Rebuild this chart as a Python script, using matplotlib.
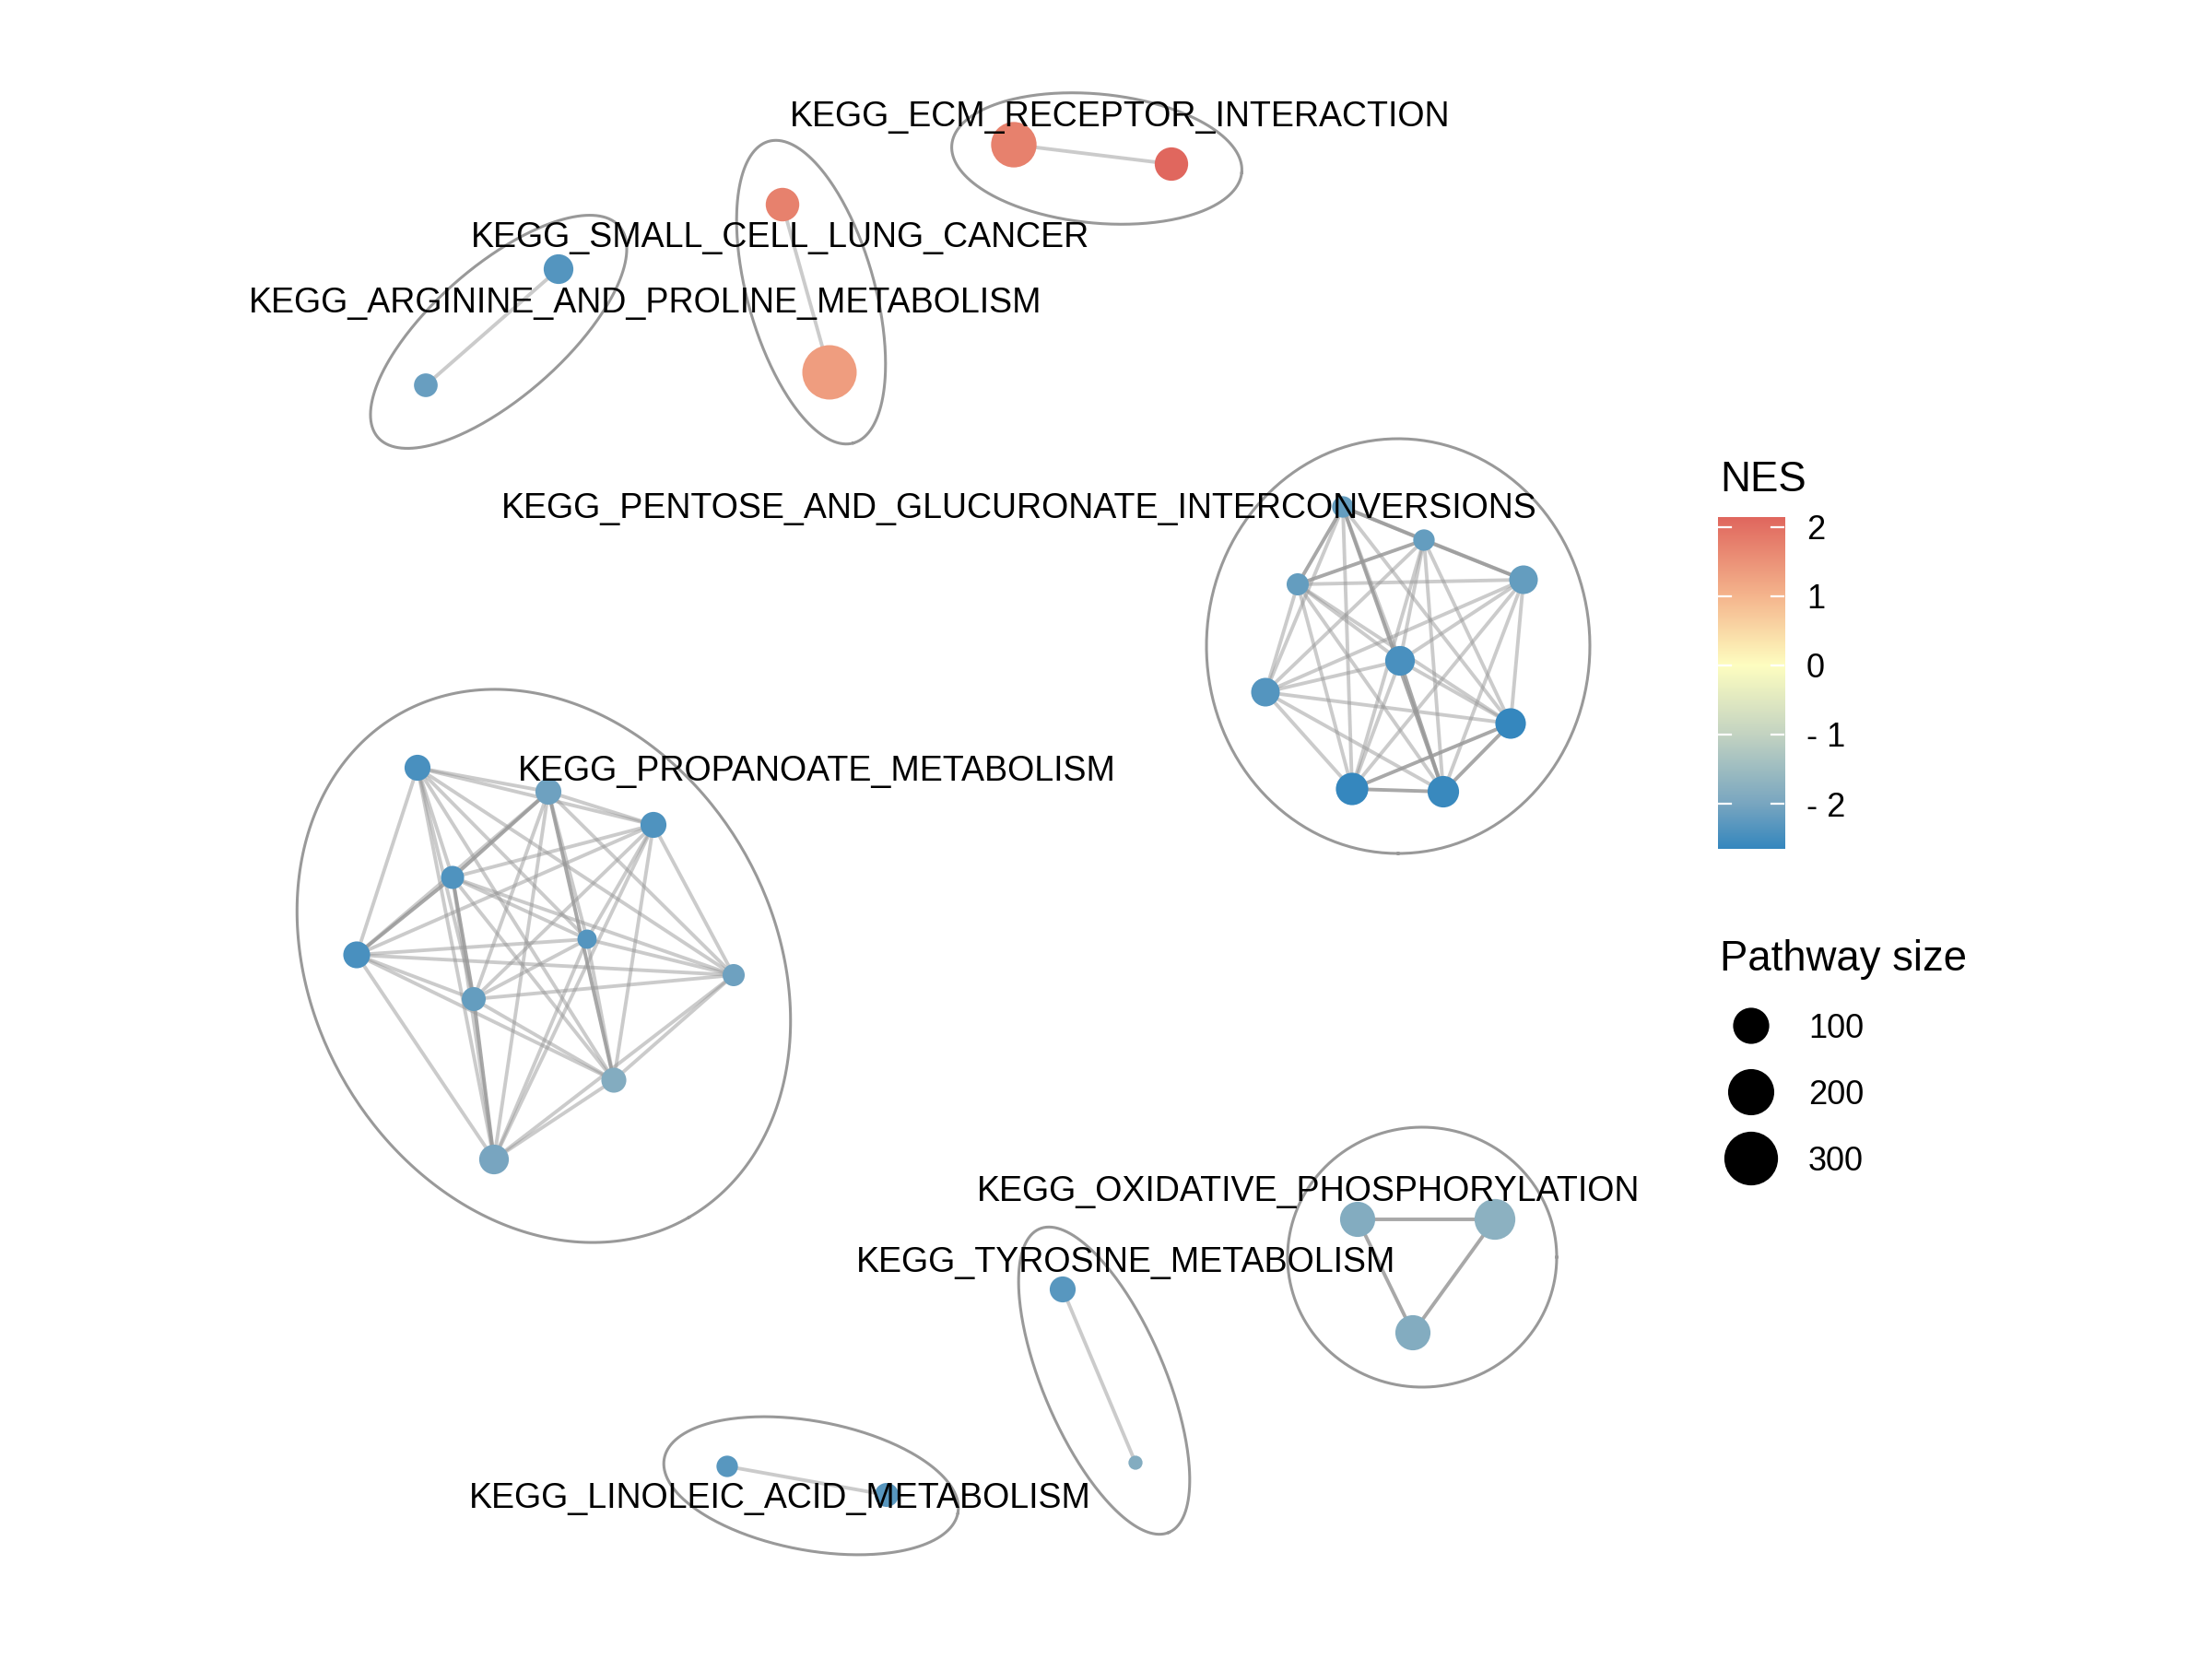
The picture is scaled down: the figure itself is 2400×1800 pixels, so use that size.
import numpy as np
import matplotlib
matplotlib.use("Agg")
import matplotlib.pyplot as plt
from matplotlib.colors import LinearSegmentedColormap, Normalize
from itertools import combinations

plt.rcParams['font.family'] = ['Liberation Sans', 'DejaVu Sans']

# ---- pathway nodes (layout coords, gene set size, NES, cluster) ----
node_x = [1100, 1271, 849, 900, 606, 462,
          1457, 1545, 1408, 1653, 1519, 1373, 1639, 1467, 1566,
          453, 595, 709, 491, 387, 637, 796, 514, 666, 536,
          1473, 1622, 1533, 1153, 1232, 789, 962]
node_y = [157, 178, 222, 404, 292, 418,
          550, 586, 634, 629, 717, 751, 785, 856, 859,
          833, 859, 895, 952, 1036, 1019, 1058, 1084, 1172, 1258,
          1323, 1323, 1446, 1399, 1587, 1591, 1622]
node_size = [192, 79, 80, 310, 55, 27,
             20, 20, 22, 49, 55, 49, 60, 72, 66,
             36, 36, 36, 25, 40, 15, 22, 28, 32, 55,
             92, 142, 92, 36, 10, 20, 28]
node_nes = [1.75, 2.14, 1.75, 1.35, -2.35, -2.15,
            -2.2, -2.2, -2.2, -2.2, -2.45, -2.35, -2.65, -2.65, -2.6,
            -2.45, -2.1, -2.4, -2.4, -2.45, -2.35, -2.1, -2.2, -1.85, -2.0,
            -1.85, -1.75, -1.85, -2.3, -1.85, -2.3, -2.3]

# simple edges (from, to, strong?)
edge_list = [(0, 1, 0), (2, 3, 0), (4, 5, 0),
             (25, 26, 1), (25, 27, 1), (26, 27, 1),
             (28, 29, 0), (30, 31, 0)]
# dense clusters: all pairs, some stronger
pentose_nodes = list(range(6, 15))
pentose_strong = [(6, 7), (6, 8), (7, 8), (7, 9), (6, 14), (10, 14), (12, 13), (12, 14), (13, 14)]
propanoate_nodes = list(range(15, 25))
propanoate_strong = [(18, 22), (22, 24), (16, 23), (16, 18), (18, 19)]

# cluster labels
cluster_names = ["KEGG_ECM_RECEPTOR_INTERACTION", "KEGG_SMALL_CELL_LUNG_CANCER",
                 "KEGG_ARGININE_AND_PROLINE_METABOLISM",
                 "KEGG_PENTOSE_AND_GLUCURONATE_INTERCONVERSIONS",
                 "KEGG_PROPANOATE_METABOLISM", "KEGG_OXIDATIVE_PHOSPHORYLATION",
                 "KEGG_TYROSINE_METABOLISM", "KEGG_LINOLEIC_ACID_METABOLISM"]
label_x = [1215, 846, 700, 1106, 886, 1420, 1222, 846]
label_y = [137, 268, 339, 562, 847, 1303, 1380, 1636]

# cluster ellipses: centre, semi-axes, angle
hull_cx = [1190, 880, 541, 1517, 590, 1543, 1198, 880]
hull_cy = [172, 317, 360, 701, 1048, 1364, 1498, 1612]
hull_a = [158, 170, 174, 225, 315, 146, 179, 162]
hull_b = [70, 69, 71, 208, 250, 141, 66, 70]
hull_ang = [5.5, 74.3, -41.2, 90, 60, 0, 66.9, 10.5]

# legend
nes_ticks = [2, 1, 0, -1, -2]
nes_tick_labels = ["2", "1", "0", "- 1", "- 2"]
size_breaks = [100, 200, 300]

# NES colour scale
cstops_v = [-2.65, -2.0, -1.0, 0.0, 1.0, 2.14]
cstops_c = ["#3587BE", "#79A6C0", "#C3D3C2", "#FEFEC0", "#F5B58D", "#E0675E"]
vmin, vmax = min(node_nes), max(node_nes)
cmap = LinearSegmentedColormap.from_list(
    "nes", [((v - vmin) / (vmax - vmin), c) for v, c in zip(cstops_v, cstops_c)])
norm = Normalize(vmin, vmax)

DPI = 200
smin, smax = min(node_size), max(node_size)


def size_to_s(v):
    v = np.asarray(v, dtype=float)
    d_px = 15.3 + (59 - 15.3) * np.sqrt((v - smin) / (smax - smin))
    return (d_px * 72 / DPI) ** 2


fig = plt.figure(figsize=(12, 9), dpi=DPI)
ax = fig.add_axes([0, 0, 1, 1])
ax.set_xlim(0, 2400)
ax.set_ylim(1800, 0)
ax.axis('off')

# ellipses
t = np.linspace(0, 2 * np.pi, 300)
for cx, cy, a, b, ang in zip(hull_cx, hull_cy, hull_a, hull_b, hull_ang):
    th = np.deg2rad(ang)
    ex = cx + a * np.cos(t) * np.cos(th) - b * np.sin(t) * np.sin(th)
    ey = cy + a * np.cos(t) * np.sin(th) + b * np.sin(t) * np.cos(th)
    ax.plot(ex, ey, color='#999999', lw=1.1, zorder=1)

# edges
all_edges = list(edge_list)
for i, j in combinations(pentose_nodes, 2):
    all_edges.append((i, j, 1 if (i, j) in pentose_strong else 0))
for i, j in combinations(propanoate_nodes, 2):
    all_edges.append((i, j, 1 if (i, j) in propanoate_strong else 0))
for i, j, w in all_edges:
    ax.plot([node_x[i], node_x[j]], [node_y[i], node_y[j]], color='#999999',
            alpha=0.85 if w else 0.5, lw=1.4, solid_capstyle='butt', zorder=2)

# nodes
ax.scatter(node_x, node_y, s=size_to_s(node_size), c=node_nes, cmap=cmap, norm=norm,
           linewidths=0, zorder=3)

# labels
for name, lx, ly in zip(cluster_names, label_x, label_y):
    ax.text(lx, ly, name, fontsize=13.5, ha='center', va='baseline', color='black', zorder=4)

# colour bar legend
ax.text(1866, 533, "NES", fontsize=16.4, ha='left', va='baseline')
cax = fig.add_axes([1864 / 2400, 1 - 921 / 1800, 72 / 2400, 360 / 1800])
grad = np.linspace(vmin, vmax, 256).reshape(-1, 1)
cax.imshow(grad, cmap=cmap, norm=norm, aspect='auto', origin='lower',
           extent=[0, 1, vmin, vmax])
cax.set_xlim(0, 1)
cax.set_ylim(vmin, vmax)
cax.axis('off')
for tv, tl in zip(nes_ticks, nes_tick_labels):
    cax.plot([0, 0.2], [tv, tv], color='white', lw=0.8)
    cax.plot([0.8, 1], [tv, tv], color='white', lw=0.8)
    cax.text(1.33, tv, tl, fontsize=13, ha='left', va='center_baseline',
             transform=cax.transData)

# size legend
ax.text(1866, 1053, "Pathway size", fontsize=16.4, ha='left', va='baseline')
key_y = [1113, 1185, 1257]
ax.scatter([1900] * 3, key_y, s=size_to_s(size_breaks), color='black', linewidths=0)
for v, ky in zip(size_breaks, key_y):
    ax.text(1962, ky + 12.7, str(v), fontsize=13, ha='left', va='baseline')

fig.savefig("out.png", dpi=DPI, facecolor='white')
